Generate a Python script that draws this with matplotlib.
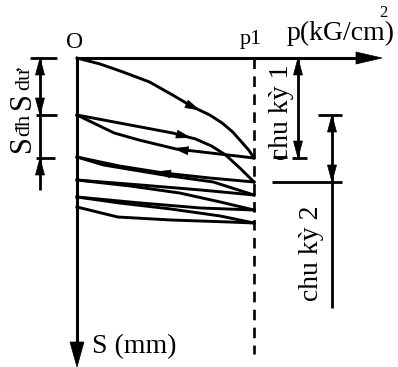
import numpy as np
import matplotlib.pyplot as plt
from matplotlib.patches import Polygon

plt.rcParams['font.family'] = ['Liberation Serif', 'DejaVu Serif']

W, H = 398, 367
# where p = 0, S = 0 sits on the sketch and how many pixels one unit takes
X0, XS = 77, 177.0   # p given as a fraction of p1
Y0, YS = 58, 10.0    # S in mm

# loading / unloading branches: p/p1 and S (mm)
load_p = [
    [0, 0.13, 0.26, 0.41, 0.54, 0.655, 0.75, 0.82, 0.88, 0.93, 0.97, 1.0],
    [0, 0.24, 0.54, 0.67, 0.76, 0.84, 0.92, 1.0],
    [0, 0.15, 0.49, 0.77, 1.0],
    [0, 0.30, 0.58, 0.81, 1.0],
    [0, 0.24, 0.53, 0.81, 1.0],
]
load_s = [
    [0, 0.6, 1.4, 2.4, 3.7, 4.9, 5.7, 6.5, 7.4, 8.4, 9.2, 10.0],
    [5.7, 6.5, 7.5, 8.1, 8.8, 9.7, 11.0, 12.4],
    [9.9, 10.7, 11.7, 12.4, 13.7],
    [12.2, 12.8, 13.5, 14.4, 15.2],
    [13.9, 14.5, 15.1, 15.8, 16.5],
]
unload_p = [
    [1.0, 0.56, 0.35, 0.21, 0],
    [1.0, 0.75, 0.49, 0.24, 0],
    [1.0, 0.70, 0.36, 0],
    [1.0, 0.70, 0.36, 0],
    [1.0, 0.86, 0.53, 0.23, 0],
]
unload_s = [
    [10.0, 9.1, 8.2, 7.5, 5.7],
    [12.4, 12.0, 11.5, 10.8, 9.9],
    [13.7, 13.2, 12.7, 12.2],
    [15.2, 15.0, 14.5, 13.9],
    [16.5, 16.4, 16.2, 15.9, 14.9],
]

fig = plt.figure(figsize=(W / 100, H / 100), dpi=100)
ax = fig.add_axes([0, 0, 1, 1])
ax.set_xlim(-X0 / XS, (W - X0) / XS)
ax.set_ylim((H - Y0) / YS, -Y0 / YS)
ax.axis('off')


def px(x):
    return (x - X0) / XS


def py(y):
    return (y - Y0) / YS


def seg(x1, y1, x2, y2, lw=2.0, **kw):
    ax.plot([px(x1), px(x2)], [py(y1), py(y2)], color='k', lw=lw,
            solid_capstyle='butt', **kw)


def head(xt, yt, dx, dy, L=16, hw=4.5):
    # filled arrow head, tip at pixel (xt, yt), pointing along (dx, dy)
    u = np.array([dx, dy], float)
    u /= np.hypot(*u)
    n = np.array([-u[1], u[0]])
    tip = np.array([xt, yt])
    base = tip - L * u
    pts = [tip, base + hw * n, base - hw * n]
    ax.add_patch(Polygon([(px(a), py(b)) for a, b in pts], closed=True,
                         fc='k', ec='k', lw=0.5))


def curve_arrow(pp, ss, p_tip, L=14, hw=4):
    pp = np.asarray(pp)
    ss = np.asarray(ss)
    order = np.argsort(pp)
    xs = X0 + XS * pp[order]
    ys = Y0 + YS * ss[order]
    xt = X0 + XS * p_tip
    yt = np.interp(xt, xs, ys)
    sgn = 1 if pp[-1] > pp[0] else -1
    x2 = xt - sgn * 6
    y2 = np.interp(x2, xs, ys)
    head(xt, yt, xt - x2, yt - y2, L=L, hw=hw)


# settlement curves
for pl, sl in zip(load_p, load_s):
    ax.plot(pl, sl, color='k', lw=2.1, solid_joinstyle='round')
for pl, sl in zip(unload_p, unload_s):
    ax.plot(pl, sl, color='k', lw=2.1, solid_joinstyle='round')

curve_arrow(load_p[0], load_s[0], 0.69)
curve_arrow(load_p[1], load_s[1], 0.64)
curve_arrow(unload_p[0], unload_s[0], 0.55)
curve_arrow(unload_p[1], unload_s[1], 0.45)

# axes
ax.plot([0, px(360)], [0, 0], color='k', lw=2.2, solid_capstyle='butt')
head(382, 58, 1, 0, L=26, hw=6)
ax.plot([0, 0], [0, py(345)], color='k', lw=2.2, solid_capstyle='butt')
head(77, 367, 0, 1, L=25, hw=7)
ax.plot([1, 1], [0, py(354)], color='k', lw=1.9, linestyle=(0, (4, 2.8)))

# left dimension: S_du and S_dh
s_du = load_s[1][0]
s_el = load_s[0][-1]
xl = 40
seg(xl, 58, xl, 190)
seg(30, 58, 57, 58)
seg(36, Y0 + YS * s_du, 57, Y0 + YS * s_du)
seg(36, Y0 + YS * s_el, 55, Y0 + YS * s_el)
head(xl, 58, 0, -1, L=17, hw=4.5)
head(xl, Y0 + YS * s_du, 0, 1, L=17, hw=4.5)
head(xl, Y0 + YS * s_el, 0, -1, L=17, hw=4.5)

# right dimensions: cycle 1 and cycle 2
c1_end = Y0 + YS * load_s[0][-1]
c2_top = Y0 + YS * load_s[1][0]
c2_end = Y0 + YS * load_s[1][-1]
seg(298, 58, 298, c1_end)
seg(292, c1_end, 307, c1_end)
seg(273, c1_end - 1, 287, c1_end - 1)
head(298, 58, 0, -1, L=17, hw=4.5)
head(298, c1_end, 0, 1, L=17, hw=4.5)

seg(332, c2_top, 332, 308)
seg(318, c2_top, 342, c2_top)
seg(272, c2_end, 342, c2_end)
head(332, c2_top, 0, -1, L=17, hw=4.5)
head(332, c2_end, 0, 1, L=17, hw=4.5)

# labels
ax.text(px(75), py(43), 'O', ha='center', va='center', fontsize=17)
ax.text(px(251), py(40), 'p1', ha='center', va='center', fontsize=16)
ax.text(px(287), py(40), 'p(kG/cm)', ha='left', va='baseline', fontsize=20)
ax.text(px(383), py(13), '2', ha='center', va='center', fontsize=12)
ax.text(px(92), py(353), 'S (mm)', ha='left', va='baseline', fontsize=20)

ax.text(px(23), py(101), 'S', rotation=90, ha='center', va='center', fontsize=22)
ax.text(px(25), py(79), 'dư', rotation=90, ha='center', va='center', fontsize=16)
ax.text(px(23), py(144), 'S', rotation=90, ha='center', va='center', fontsize=22)
ax.text(px(25), py(125), 'đh', rotation=90, ha='center', va='center', fontsize=16)

ax.text(px(281), py(112), 'chu kỳ 1', rotation=90, ha='center', va='center', fontsize=20)
ax.text(px(311), py(253), 'chu kỳ 2', rotation=90, ha='center', va='center', fontsize=20)

fig.savefig('out.png', dpi=100)
